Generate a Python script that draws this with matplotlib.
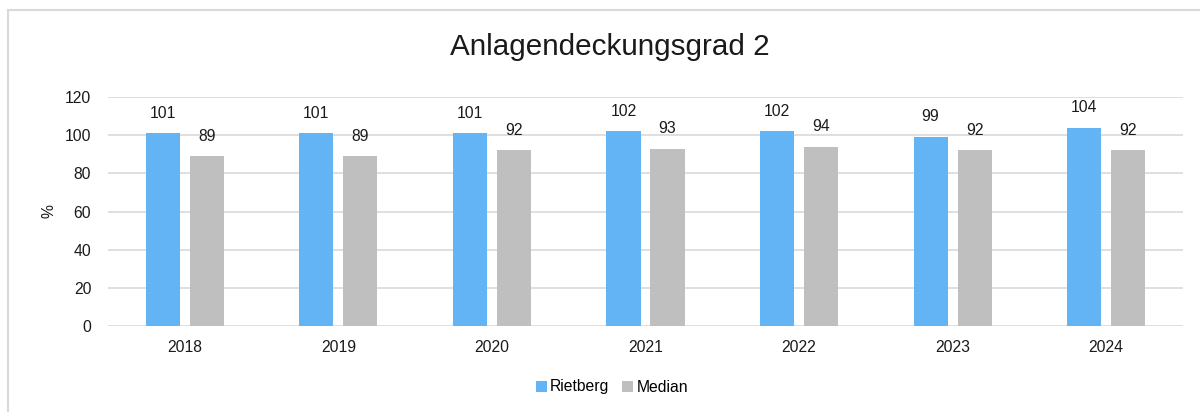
import matplotlib
matplotlib.use("Agg")
import matplotlib.pyplot as plt
import numpy as np
from matplotlib.patches import Rectangle

years = ["2018", "2019", "2020", "2021", "2022", "2023", "2024"]
rietberg = [101, 101, 101, 102, 102, 99, 104]
median = [89, 89, 92, 93, 94, 92, 92]
yticks = [0, 20, 40, 60, 80, 100, 120]

plt.rcParams['font.family'] = ['Liberation Sans', 'DejaVu Sans']

W, H = 1200, 412
fs = 11.3
fig = plt.figure(figsize=(W/100, H/100), dpi=100)
ax = fig.add_axes([108/W, 1-326/H, (1183-108)/W, (326-97)/H])

blue = '#63b4f5'
grey = '#bfbfbf'
x = np.arange(len(years))
bw = 0.222
gap = 0.065
off = (bw + gap) / 2
b1 = ax.bar(x - off, rietberg, bw, color=blue, label='Rietberg', zorder=3)
b2 = ax.bar(x + off, median, bw, color=grey, label='Median', zorder=3)

for bars, vals in ((b1, rietberg), (b2, median)):
    for r, v in zip(bars, vals):
        ax.annotate(str(v), (r.get_x() + r.get_width()/2, v), xytext=(0, 14.5),
                    textcoords='offset points', ha='center', va='center', fontsize=fs, color='#1a1a1a')

ax.set_xlim(-0.5, len(years) - 0.5)
ax.set_ylim(0, 120)
ax.set_yticks(yticks)
ax.set_xticks(x)
ax.set_xticklabels(years)
ax.grid(axis='y', color='#d9d9d9', linewidth=1.2, zorder=0)
for s in ax.spines.values():
    s.set_visible(False)
ax.tick_params(length=0, labelsize=fs, colors='#1a1a1a')
ax.tick_params(axis='y', pad=12)
ax.tick_params(axis='x', pad=10)
ax.set_ylabel('%', fontsize=fs, color='#1a1a1a', labelpad=6)

fig.text(610/W, 1-47/H, 'Anlagendeckungsgrad 2', ha='center', va='center', fontsize=21.3, color='#1a1a1a')

fig.legend(handles=[b1, b2], loc='center', bbox_to_anchor=(612/W, 1-387/H), ncol=2, frameon=False,
           fontsize=fs, handlelength=0.7, handleheight=0.7, handletextpad=0.2, columnspacing=0.8)

fig.patches.append(Rectangle((8/W, -0.1), 1.2, 1 - 10/H + 0.1, transform=fig.transFigure,
                             fill=False, edgecolor='#d9d9d9', linewidth=1.5))

fig.savefig('out.png', dpi=100)
